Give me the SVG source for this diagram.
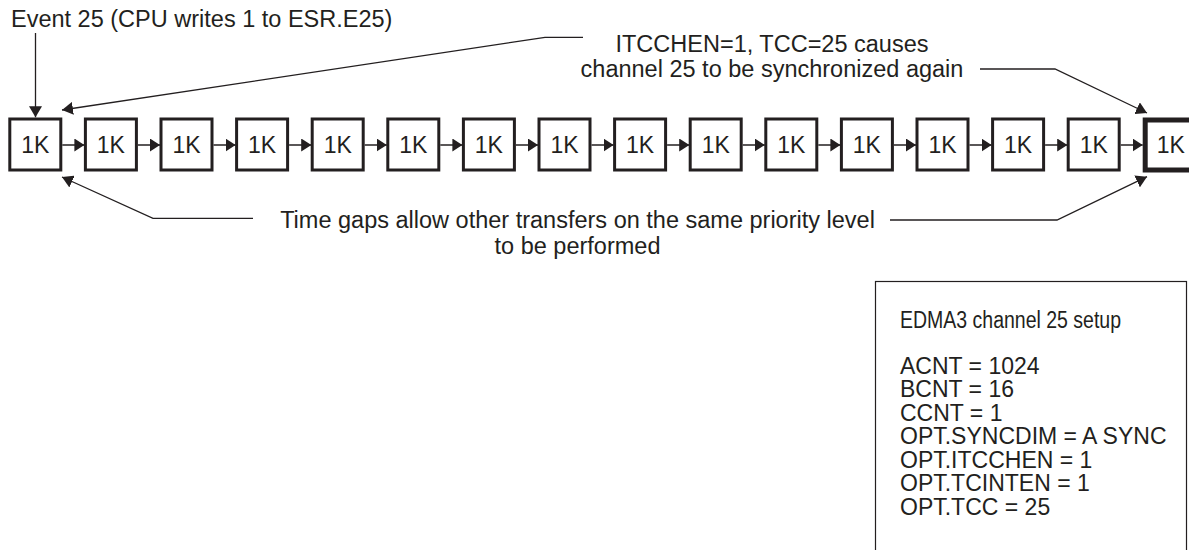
<svg xmlns="http://www.w3.org/2000/svg" width="1189" height="550" viewBox="0 0 1189 550">
<style>
text{font-family:"Liberation Sans",Arial,Helvetica,sans-serif;fill:#231f20;}
.t{font-size:23.5px;}
.s{font-size:23px;}
.k{font-size:23px;text-anchor:middle;}
.box{fill:#fff;stroke:#231f20;stroke-width:3;}
.last{fill:#fff;stroke:#231f20;stroke-width:5;}
.c{fill:none;stroke:#231f20;stroke-width:1.3;}
.link{stroke:#231f20;stroke-width:1.5;}
</style>
<defs>
<marker id="ah" markerUnits="userSpaceOnUse" markerWidth="11" markerHeight="13" refX="11" refY="6.5" orient="auto">
<path d="M0,0 L11,6.5 L0,13 z" fill="#231f20"/>
</marker>
<marker id="as" markerUnits="userSpaceOnUse" markerWidth="10" markerHeight="13" refX="10" refY="6.5" orient="auto">
<path d="M0,0 L10,6.5 L0,13 z" fill="#231f20"/>
</marker>
</defs>
<g id="labels">
<text class="t" x="11" y="27">Event 25 (CPU writes 1 to ESR.E25)</text>
<text class="t" x="772" y="51.5" text-anchor="middle">ITCCHEN=1, TCC=25 causes</text>
<text class="t" x="772" y="77" text-anchor="middle">channel 25 to be synchronized again</text>
<text class="t" x="577.5" y="228.3" text-anchor="middle">Time gaps allow other transfers on the same priority level</text>
<text class="t" x="577.5" y="253.5" text-anchor="middle">to be performed</text>
</g>
<g id="connectors">
<line class="c" x1="35.5" y1="33" x2="35.5" y2="117.3" marker-end="url(#ah)"/>
<polyline class="c" points="583,37.3 545,37.3 62,110" marker-end="url(#ah)"/>
<polyline class="c" points="980,69 1055,69 1147,113" marker-end="url(#ah)"/>
<polyline class="c" points="253,218.3 153,218.3 62,177" marker-end="url(#ah)"/>
<polyline class="c" points="890,220 1057,220 1147,176.7" marker-end="url(#ah)"/>
<line class="link" x1="62.3" y1="145" x2="84.4" y2="145" marker-end="url(#as)"/>
<line class="link" x1="137.9" y1="145" x2="160" y2="145" marker-end="url(#as)"/>
<line class="link" x1="213.5" y1="145" x2="235.6" y2="145" marker-end="url(#as)"/>
<line class="link" x1="289.1" y1="145" x2="311.2" y2="145" marker-end="url(#as)"/>
<line class="link" x1="364.7" y1="145" x2="386.8" y2="145" marker-end="url(#as)"/>
<line class="link" x1="440.3" y1="145" x2="462.4" y2="145" marker-end="url(#as)"/>
<line class="link" x1="515.9" y1="145" x2="538" y2="145" marker-end="url(#as)"/>
<line class="link" x1="591.5" y1="145" x2="613.6" y2="145" marker-end="url(#as)"/>
<line class="link" x1="667.1" y1="145" x2="689.2" y2="145" marker-end="url(#as)"/>
<line class="link" x1="742.7" y1="145" x2="764.8" y2="145" marker-end="url(#as)"/>
<line class="link" x1="818.3" y1="145" x2="840.4" y2="145" marker-end="url(#as)"/>
<line class="link" x1="893.9" y1="145" x2="916" y2="145" marker-end="url(#as)"/>
<line class="link" x1="969.5" y1="145" x2="991.6" y2="145" marker-end="url(#as)"/>
<line class="link" x1="1045.1" y1="145" x2="1067.2" y2="145" marker-end="url(#as)"/>
<line class="link" x1="1120.7" y1="145" x2="1142.7" y2="145" marker-end="url(#as)"/>
</g>
<g id="n0"><rect class="box" x="9.8" y="119" width="51" height="51"/><text class="k" x="35.3" y="153">1K</text></g>
<g id="n1"><rect class="box" x="85.4" y="119" width="51" height="51"/><text class="k" x="110.9" y="153">1K</text></g>
<g id="n2"><rect class="box" x="161" y="119" width="51" height="51"/><text class="k" x="186.5" y="153">1K</text></g>
<g id="n3"><rect class="box" x="236.6" y="119" width="51" height="51"/><text class="k" x="262.1" y="153">1K</text></g>
<g id="n4"><rect class="box" x="312.2" y="119" width="51" height="51"/><text class="k" x="337.7" y="153">1K</text></g>
<g id="n5"><rect class="box" x="387.8" y="119" width="51" height="51"/><text class="k" x="413.3" y="153">1K</text></g>
<g id="n6"><rect class="box" x="463.4" y="119" width="51" height="51"/><text class="k" x="488.9" y="153">1K</text></g>
<g id="n7"><rect class="box" x="539" y="119" width="51" height="51"/><text class="k" x="564.5" y="153">1K</text></g>
<g id="n8"><rect class="box" x="614.6" y="119" width="51" height="51"/><text class="k" x="640.1" y="153">1K</text></g>
<g id="n9"><rect class="box" x="690.2" y="119" width="51" height="51"/><text class="k" x="715.7" y="153">1K</text></g>
<g id="n10"><rect class="box" x="765.8" y="119" width="51" height="51"/><text class="k" x="791.3" y="153">1K</text></g>
<g id="n11"><rect class="box" x="841.4" y="119" width="51" height="51"/><text class="k" x="866.9" y="153">1K</text></g>
<g id="n12"><rect class="box" x="917" y="119" width="51" height="51"/><text class="k" x="942.5" y="153">1K</text></g>
<g id="n13"><rect class="box" x="992.6" y="119" width="51" height="51"/><text class="k" x="1018.1" y="153">1K</text></g>
<g id="n14"><rect class="box" x="1068.2" y="119" width="51" height="51"/><text class="k" x="1093.7" y="153">1K</text></g>
<g id="n15"><rect class="last" x="1145.2" y="120" width="51" height="50"/><text class="k" x="1170.7" y="153">1K</text></g>
<g id="setup">
<rect x="875.5" y="281.5" width="311" height="300" fill="#fff" stroke="#231f20" stroke-width="1.2"/>
<text class="s" x="900" y="328" textLength="221" lengthAdjust="spacingAndGlyphs">EDMA3 channel 25 setup</text>
<text class="s" x="900" y="373.5">ACNT = 1024</text>
<text class="s" x="900" y="397">BCNT = 16</text>
<text class="s" x="900" y="420.5">CCNT = 1</text>
<text class="s" x="900" y="444">OPT.SYNCDIM = A SYNC</text>
<text class="s" x="900" y="467.5">OPT.ITCCHEN = 1</text>
<text class="s" x="900" y="491">OPT.TCINTEN = 1</text>
<text class="s" x="900" y="514.5">OPT.TCC = 25</text>
</g>
</svg>
